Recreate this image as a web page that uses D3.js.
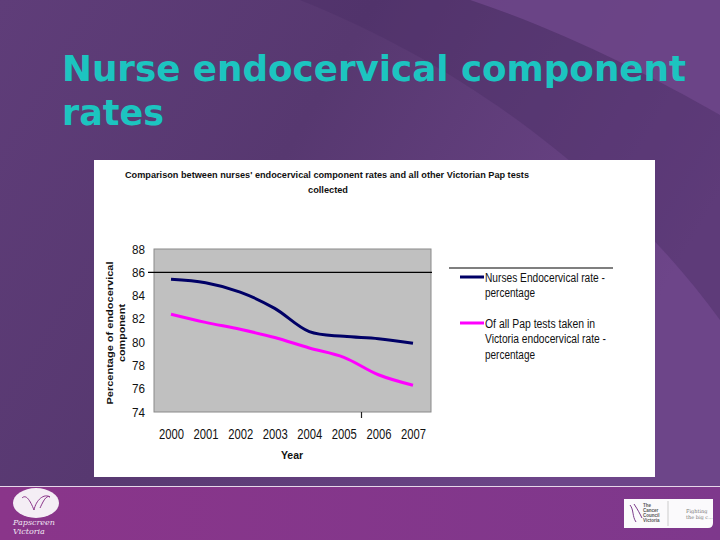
<!DOCTYPE html>
<html>
<head>
<meta charset="utf-8">
<script src="https://cdn.jsdelivr.net/npm/d3@7"></script>
<style>
  html, body { margin: 0; padding: 0; background: #5a3a74; }
  svg { display: block; }
</style>
</head>
<body>
<div id="chart"></div>
<script>
// ---- data ----
const years = ["2000", "2001", "2002", "2003", "2004", "2005", "2006", "2007"];
const nurses = [85.4, 85.1, 84.3, 82.9, 80.9, 80.5, 80.3, 79.9];
const allVic = [82.4, 81.7, 81.1, 80.4, 79.5, 78.7, 77.2, 76.3];
const yTicks = [74, 76, 78, 80, 82, 84, 86, 88];
const seriesNames = [
  ["Nurses Endocervical rate -", "percentage"],
  ["Of all Pap tests taken in", "Victoria endocervical rate -", "percentage"]
];
const seriesColors = ["#000066", "#ff00ff"];
const slideTitle = ["Nurse endocervical component", "rates"];
const chartTitle = ["Comparison between nurses' endocervical component rates and all other Victorian Pap tests", "collected"];
const yTitle = ["Percentage of endocervical", "component"];
const xTitle = "Year";

const W = 720, H = 540;
const svg = d3.select("#chart").append("svg").attr("width", W).attr("height", H);
const defs = svg.append("defs");

// background gradient
const bg = defs.append("linearGradient").attr("id", "bg").attr("x1", "0").attr("y1", "0").attr("x2", "1").attr("y2", "0.4");
bg.append("stop").attr("offset", "0").attr("stop-color", "#5f3d79");
bg.append("stop").attr("offset", "0.45").attr("stop-color", "#573870");
bg.append("stop").attr("offset", "1").attr("stop-color", "#6d4589");
svg.append("rect").attr("width", W).attr("height", 487).attr("fill", "url(#bg)");
// lighter corner top-right
svg.append("path")
  .attr("d", "M470,0 C560,30 650,75 720,115 L720,0 Z")
  .attr("fill", "#6b4587").attr("opacity", 0.9);
// darker diagonal band
svg.append("path")
  .attr("d", "M300,0 L470,0 C560,30 650,75 720,115 L720,320 C640,210 500,80 300,0 Z")
  .attr("fill", "#4c2e66").attr("opacity", 0.45);

// bottom band
const bb = defs.append("linearGradient").attr("id", "bb").attr("x1", "0").attr("y1", "0").attr("x2", "1").attr("y2", "0");
bb.append("stop").attr("offset", "0").attr("stop-color", "#8a358a");
bb.append("stop").attr("offset", "1").attr("stop-color", "#7e388c");
svg.append("rect").attr("y", 487).attr("width", W).attr("height", H - 487).attr("fill", "url(#bb)");
svg.append("line").attr("x1", 0).attr("x2", W).attr("y1", 486.5).attr("y2", 486.5)
  .attr("stroke", "#e6d8ea").attr("stroke-width", 1.2);

// slide title
svg.append("g").selectAll("text").data(slideTitle).join("text")
  .attr("x", 62).attr("y", (d, i) => 81 + i * 44)
  .attr("font-family", "DejaVu Sans, Verdana, sans-serif")
  .attr("font-weight", "bold").attr("font-size", 35)
  .attr("fill", "#1cc4c0")
  .attr("textLength", (d, i) => i === 0 ? 624 : 102)
  .attr("lengthAdjust", "spacingAndGlyphs")
  .text(d => d);

// chart panel
svg.append("rect").attr("x", 94).attr("y", 160).attr("width", 561).attr("height", 317).attr("fill", "#ffffff");

// chart title
svg.append("g").selectAll("text").data(chartTitle).join("text")
  .attr("x", (d, i) => i === 0 ? 327 : 328).attr("y", (d, i) => 178 + i * 15)
  .attr("text-anchor", "middle")
  .attr("font-family", "Liberation Sans, Arial, sans-serif")
  .attr("font-weight", "bold").attr("font-size", 9.8)
  .attr("fill", "#111")
  .attr("textLength", (d, i) => i === 0 ? 404 : 40)
  .attr("lengthAdjust", "spacingAndGlyphs")
  .text(d => d);

// scales
const plot = { left: 154, right: 431, top: 249, bottom: 412 };
const x = d3.scalePoint().domain(years).range([171, 413]);
const y = d3.scaleLinear().domain([74, 88]).range([plot.bottom, plot.top]);

// plot area
svg.append("rect")
  .attr("x", plot.left).attr("y", plot.top)
  .attr("width", plot.right - plot.left).attr("height", plot.bottom - plot.top)
  .attr("fill", "#c0c0c0").attr("stroke", "#8a8a8a").attr("stroke-width", 1);

// reference line at 86
svg.append("line")
  .attr("x1", 148).attr("x2", 432)
  .attr("y1", y(86)).attr("y2", y(86))
  .attr("stroke", "#000").attr("stroke-width", 1.2);

// y axis labels
const yAxis = d3.axisLeft(y).tickValues(yTicks).tickSize(0).tickPadding(0);
const gy = svg.append("g").attr("transform", "translate(145,0)").call(yAxis);
gy.select(".domain").remove();
gy.selectAll("text")
  .attr("font-family", "Liberation Sans, Arial, sans-serif")
  .attr("font-size", 12.5).attr("fill", "#111")
  .attr("textLength", 13).attr("lengthAdjust", "spacingAndGlyphs");

// x axis labels
const xAxis = d3.axisBottom(x).tickSize(0).tickPadding(0);
const gx = svg.append("g").attr("transform", "translate(0,428)").call(xAxis);
gx.select(".domain").remove();
gx.selectAll("text")
  .attr("font-family", "Liberation Sans, Arial, sans-serif")
  .attr("font-size", 15).attr("fill", "#111")
  .attr("textLength", 25).attr("lengthAdjust", "spacingAndGlyphs");

// small stray tick on x axis
svg.append("line").attr("x1", 361.5).attr("x2", 361.5).attr("y1", plot.bottom).attr("y2", plot.bottom + 6)
  .attr("stroke", "#222").attr("stroke-width", 1.2);

// axis titles
svg.append("text").attr("x", 292).attr("y", 459).attr("text-anchor", "middle")
  .attr("font-family", "Liberation Sans, Arial, sans-serif").attr("font-weight", "bold")
  .attr("font-size", 10.5).attr("fill", "#111").text(xTitle);

svg.append("g").selectAll("text").data(yTitle).join("text")
  .attr("transform", (d, i) => `translate(${113 + i * 12},333) rotate(-90)`)
  .attr("text-anchor", "middle")
  .attr("font-family", "Liberation Sans, Arial, sans-serif").attr("font-weight", "bold")
  .attr("font-size", 9.5).attr("fill", "#111")
  .attr("textLength", (d, i) => i === 0 ? 143 : 58)
  .attr("lengthAdjust", "spacingAndGlyphs")
  .text(d => d);

// lines
const line = d3.line().x((d, i) => x(years[i])).y(d => y(d)).curve(d3.curveCatmullRom.alpha(0.5));
[nurses, allVic].forEach((s, k) => {
  svg.append("path").datum(s).attr("d", line)
    .attr("fill", "none").attr("stroke", seriesColors[k]).attr("stroke-width", 3)
    .attr("stroke-linejoin", "round");
});

// legend
svg.append("line").attr("x1", 449).attr("x2", 613).attr("y1", 268).attr("y2", 268)
  .attr("stroke", "#000").attr("stroke-width", 1.2);
const legY = [277, 323];
const lens = [[120, 50], [110, 121, 50]];
seriesNames.forEach((lines, k) => {
  svg.append("line").attr("x1", 460).attr("x2", 484).attr("y1", legY[k]).attr("y2", legY[k])
    .attr("stroke", seriesColors[k]).attr("stroke-width", 3);
  svg.append("g").selectAll("text").data(lines).join("text")
    .attr("x", 485).attr("y", (d, i) => legY[k] + 4.5 + i * 15.7)
    .attr("font-family", "Liberation Sans, Arial, sans-serif")
    .attr("font-size", 12.5).attr("fill", "#111")
    .attr("textLength", (d, i) => lens[k][i]).attr("lengthAdjust", "spacingAndGlyphs")
    .text(d => d);
});

// footer logos
const lg = svg.append("g");
lg.append("ellipse").attr("cx", 36).attr("cy", 503).attr("rx", 23).attr("ry", 15).attr("fill", "#f4eef5");
lg.append("path").attr("d", "M22,498 C26,494 30,500 34,510 C36,500 44,493 50,497 C46,494 42,504 40,508")
  .attr("fill", "none").attr("stroke", "#8a358a").attr("stroke-width", 1);
lg.selectAll("text").data(["Papscreen", "Victoria"]).join("text")
  .attr("x", 13).attr("y", (d, i) => 525 + i * 9)
  .attr("font-family", "DejaVu Serif, serif").attr("font-style", "italic")
  .attr("font-size", 8).attr("fill", "#f0e6f2").text(d => d);

const rg = svg.append("g");
rg.append("path").attr("d", "M624,499 H713 V523 Q713,528 708,528 H624 Z").attr("fill", "#fbfafc");
rg.append("line").attr("x1", 668).attr("x2", 668).attr("y1", 501).attr("y2", 526).attr("stroke", "#ccc");
rg.append("path").attr("d", "M630,505 C634,510 632,516 636,522 M634,504 C638,510 640,514 642,518")
  .attr("fill", "none").attr("stroke", "#7a3a8a").attr("stroke-width", 1);
rg.selectAll("text.c").data(["The", "Cancer", "Council", "Victoria"]).join("text")
  .attr("x", 643).attr("y", (d, i) => 507 + i * 5)
  .attr("font-family", "Liberation Sans, Arial, sans-serif").attr("font-size", 4.5)
  .attr("font-weight", "bold").attr("fill", "#555").text(d => d);
rg.selectAll("text.f").data(["Fighting", "the big c..."]).join("text")
  .attr("x", 686).attr("y", (d, i) => 513 + i * 6)
  .attr("font-family", "DejaVu Serif, serif").attr("font-size", 5)
  .attr("fill", "#777").text(d => d);
</script>
</body>
</html>
